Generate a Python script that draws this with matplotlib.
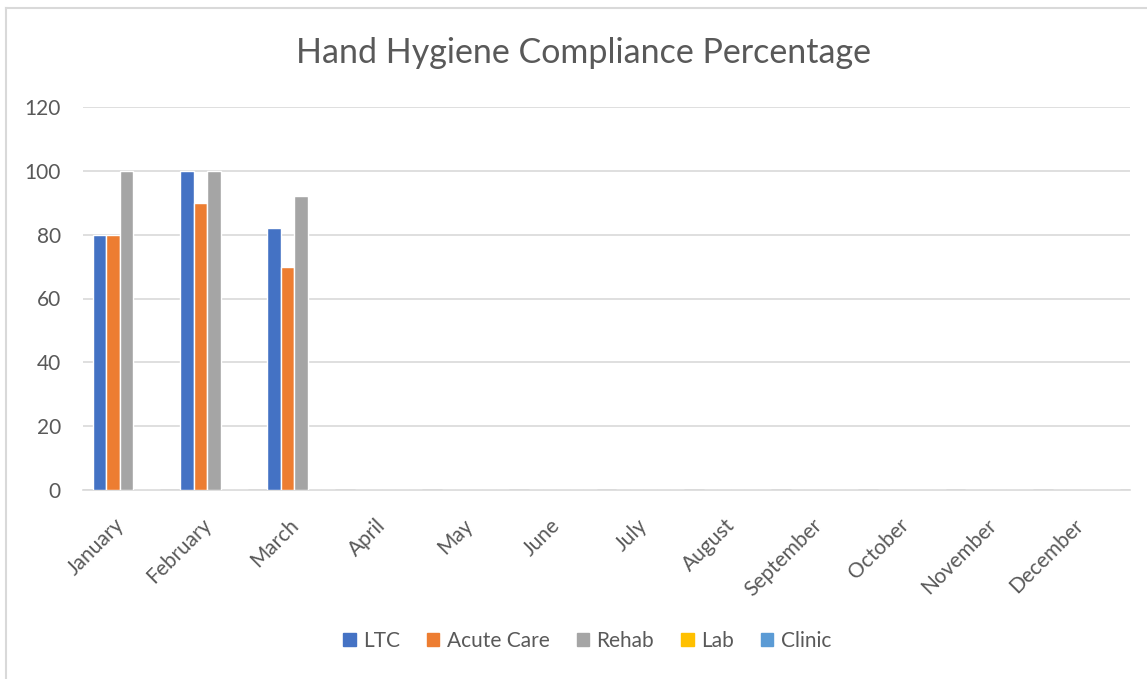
import matplotlib.pyplot as plt
import matplotlib.transforms as mtransforms
import numpy as np
from matplotlib.lines import Line2D

months = ["January", "February", "March", "April", "May", "June", "July",
          "August", "September", "October", "November", "December"]
series_names = ["LTC", "Acute Care", "Rehab", "Lab", "Clinic"]
ltc = [80, 100, 82, 0, 0, 0, 0, 0, 0, 0, 0, 0]
acute_care = [80, 90, 70, 0, 0, 0, 0, 0, 0, 0, 0, 0]
rehab = [100, 100, 92, 0, 0, 0, 0, 0, 0, 0, 0, 0]
lab = [0] * 12
clinic = [0] * 12
colors = ["#4472C4", "#ED7D31", "#A5A5A5", "#FFC000", "#5B9BD5"]

plt.rcParams["font.family"] = ["Lato", "DejaVu Sans"]
text_color = "#595959"

fig = plt.figure(figsize=(11.47, 6.79), dpi=100)
ax = fig.add_axes([83 / 1147, 1 - 490 / 679, (1130 - 83) / 1147, (490 - 107) / 679])

x = np.arange(len(months))
bar_w = 0.155
all_series = [ltc, acute_care, rehab, lab, clinic]
for i, (name, vals) in enumerate(zip(series_names, all_series)):
    offs = (i - 2) * bar_w
    ax.bar(x + offs, vals, width=bar_w, color=colors[i], edgecolor="white",
           linewidth=1, label=name, zorder=3)

ax.set_xlim(-0.5, len(months) - 0.5)
ax.set_ylim(0, 120)
ax.set_yticks(range(0, 121, 20))
ax.grid(axis="y", color="#D9D9D9", linewidth=1.2, zorder=0)
ax.set_axisbelow(True)
for s in ["top", "right", "left"]:
    ax.spines[s].set_visible(False)
ax.spines["bottom"].set_color("#D9D9D9")
ax.spines["bottom"].set_linewidth(1.2)
ax.tick_params(axis="both", length=0, colors=text_color)
ax.tick_params(axis="y", pad=16, labelsize=15)
ax.set_xticks(x)
ax.set_xticklabels(months, rotation=45, ha="right", rotation_mode="anchor", fontsize=15)
ax.tick_params(axis="x", pad=18)
shift = mtransforms.ScaledTranslation(-13 / 100, 0, fig.dpi_scale_trans)
for lbl in ax.get_xticklabels():
    lbl.set_transform(lbl.get_transform() + shift)

fig.text(0.509, 1 - 53 / 679, "Hand Hygiene Compliance Percentage",
         ha="center", va="center", fontsize=24.5, color=text_color)

handles = [plt.Rectangle((0, 0), 1, 1, color=c) for c in colors]
fig.legend(handles, series_names, loc="center", bbox_to_anchor=(587 / 1147, 1 - 641 / 679),
           ncol=5, frameon=False, fontsize=15, labelcolor=text_color,
           handlelength=0.6, handleheight=0.6, handletextpad=0.35, columnspacing=1.3)

# chart area border
fig.add_artist(Line2D([6 / 1147, 1.0], [1 - 8 / 679, 1 - 8 / 679], color="#D9D9D9", linewidth=1.5))
fig.add_artist(Line2D([6 / 1147, 6 / 1147], [0, 1 - 8 / 679], color="#D9D9D9", linewidth=1.5))

fig.savefig("out.png", dpi=100, facecolor="white")
